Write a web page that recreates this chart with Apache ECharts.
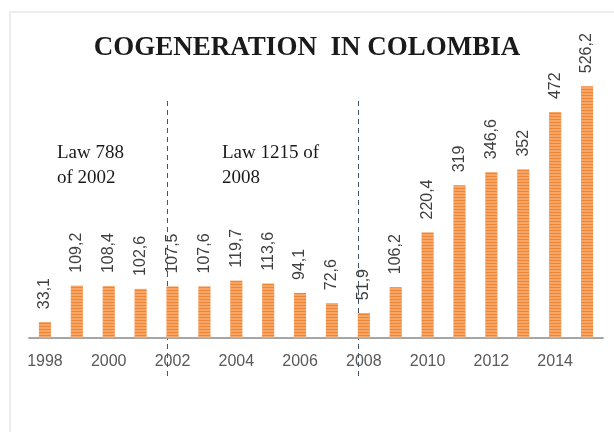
<!DOCTYPE html>
<html>
<head>
<meta charset="utf-8">
<script src="https://cdn.jsdelivr.net/npm/echarts@6/dist/echarts.min.js"></script>
<style>
  html, body { margin: 0; padding: 0; background: #fff; }
  #chart { width: 614px; height: 432px; }
</style>
</head>
<body>
<div id="chart"></div>
<script>
var years = ['1998','1999','2000','2001','2002','2003','2004','2005','2006',
             '2007','2008','2009','2010','2011','2012','2013','2014','2015'];
var cogeneration = [33.1, 109.2, 108.4, 102.6, 107.5, 107.6, 119.7, 113.6, 94.1,
                    72.6, 51.9, 106.2, 220.4, 319, 346.6, 352, 472, 526.2];
var lawYears = ['2002', '2008'];
var lawNotes = ['Law 788\nof 2002', 'Law 1215 of\n2008'];

var chart = echarts.init(document.getElementById('chart'), null, {renderer: 'canvas'});

var option = {
  backgroundColor: '#fff',
  animation: false,
  title: {
    text: 'COGENERATION  IN COLOMBIA',
    left: 302,
    textAlign: 'center',
    top: 30,
    textStyle: {
      fontFamily: 'Liberation Serif',
      fontWeight: 'bold',
      fontSize: 27,
      color: '#1a1a1a'
    }
  },
  grid: { left: 29, right: 11, top: 70, bottom: 94 },
  xAxis: {
    type: 'category',
    data: years,
    axisLine: { lineStyle: { color: '#a6a6a6', width: 2 } },
    axisTick: { show: false },
    axisLabel: {
      interval: 1,
      margin: 16,
      fontFamily: 'Liberation Sans',
      fontSize: 16,
      color: '#595959'
    }
  },
  yAxis: {
    type: 'value',
    min: 0,
    max: 560,
    show: false,
    splitLine: { show: false }
  },
  series: [{
    type: 'bar',
    data: cogeneration,
    barWidth: 12,
    itemStyle: {
      color: '#ee8436',
      decal: {
        symbol: 'rect',
        dashArrayX: [1, 0],
        dashArrayY: [2, 1],
        rotation: 0,
        color: 'rgba(255,200,150,0.5)'
      }
    },
    label: {
      show: true,
      position: 'top',
      rotate: 90,
      align: 'left',
      verticalAlign: 'middle',
      distance: 13,
      fontFamily: 'Liberation Sans',
      fontSize: 16,
      color: '#404040',
      formatter: function (p) { return String(p.value).replace('.', ','); }
    }
  }]
};
chart.setOption(option);

// frame, law separators and notes
var graphics = [{
  type: 'polyline',
  shape: { points: [[10, 432], [10, 12], [614, 12]] },
  style: { stroke: '#d9d9d9', lineWidth: 1, fill: null },
  silent: true
}];
lawYears.forEach(function (y) {
  var x = Math.round(chart.convertToPixel({xAxisIndex: 0}, y)) - 5.5;
  graphics.push({
    type: 'line',
    shape: { x1: x, y1: 101, x2: x, y2: 376 },
    style: { stroke: '#44546a', lineWidth: 1, lineDash: [5, 4] },
    silent: true
  });
});
graphics.push({
  type: 'text', left: 57, top: 141,
  style: { text: lawNotes[0], font: '19px "Liberation Serif"', fill: '#1a1a1a', lineHeight: 25 }
});
graphics.push({
  type: 'text', left: 222, top: 141,
  style: { text: lawNotes[1], font: '19px "Liberation Serif"', fill: '#1a1a1a', lineHeight: 25 }
});
chart.setOption({ graphic: graphics });
</script>
</body>
</html>
